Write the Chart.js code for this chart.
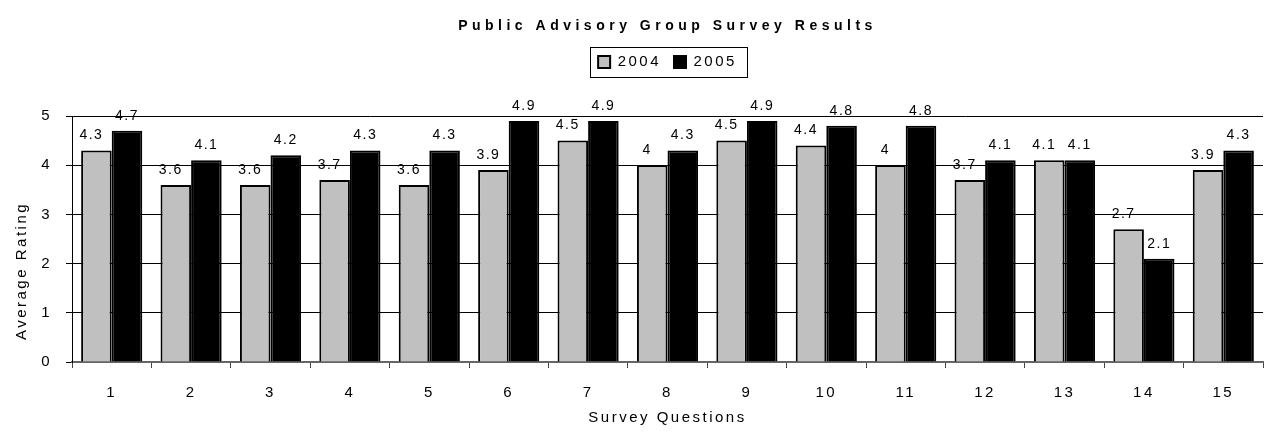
<!DOCTYPE html>
<html>
<head>
<meta charset="utf-8">
<script src="https://cdn.jsdelivr.net/npm/chart.js@4"></script>
<style>html,body{margin:0;padding:0;background:#fff}</style>
</head>
<body>
<canvas id="c" width="1267" height="432"></canvas>
<script>
// survey data
const questions = ['1','2','3','4','5','6','7','8','9','10','11','12','13','14','15'];
const ratings2004 = [4.3, 3.6, 3.6, 3.7, 3.6, 3.9, 4.5, 4, 4.5, 4.4, 4, 3.7, 4.1, 2.7, 3.9];
const ratings2005 = [4.7, 4.1, 4.2, 4.3, 4.3, 4.9, 4.9, 4.3, 4.9, 4.8, 4.8, 4.1, 4.1, 2.1, 4.3];
const yTicks = [0, 1, 2, 3, 4, 5];

const FONT = '"Liberation Sans", Arial, sans-serif';
const yTitle = 'Average Rating';

// spaced-out lettering like the original; the title gets a wider spread
const spacing = {
    id: 'spacing',
    afterInit(chart) {
        const tb = chart.titleBlock;
        const orig = tb.draw.bind(tb);
        tb.draw = function (area) {
            const prev = chart.ctx.letterSpacing;
            chart.ctx.letterSpacing = '4.5px';
            orig(area);
            chart.ctx.letterSpacing = prev;
        };
    },
    beforeUpdate(chart) { chart.ctx.letterSpacing = '2.5px'; },
    beforeDraw(chart) { chart.ctx.letterSpacing = '2.5px'; }
};

// box round the legend items
const legendBox = {
    id: 'legendBox',
    afterDraw(chart) {
        const boxes = chart.legend.legendHitBoxes;
        if (!boxes || !boxes.length) return;
        let l = Infinity, r = -Infinity, t = Infinity, b = -Infinity;
        boxes.forEach(h => {
            l = Math.min(l, h.left); r = Math.max(r, h.left + h.width);
            t = Math.min(t, h.top); b = Math.max(b, h.top + h.height);
        });
        const ctx = chart.ctx;
        ctx.save();
        ctx.strokeStyle = '#000';
        ctx.lineWidth = 1;
        ctx.strokeRect(Math.round(l - 8) + 0.5, Math.round(t - 8) + 0.5, Math.round(r - l + 18), Math.round(b - t + 15));
        ctx.restore();
    }
};

// rotated y title, sitting a little below the middle as in the original
const yTitlePlugin = {
    id: 'yTitle',
    afterDraw(chart) {
        const s = chart.scales.y;
        const ctx = chart.ctx;
        ctx.save();
        ctx.font = '15px ' + FONT;
        ctx.fillStyle = '#000';
        ctx.textAlign = 'center';
        ctx.textBaseline = 'middle';
        ctx.translate(22, (s.top + s.bottom) / 2 + 32);
        ctx.rotate(-Math.PI / 2);
        ctx.fillText(yTitle, 0, 0);
        ctx.restore();
    }
};

// value labels above the bars
const valueLabels = {
    id: 'valueLabels',
    afterDatasetsDraw(chart) {
        const ctx = chart.ctx;
        ctx.save();
        ctx.font = '14px ' + FONT;
        ctx.letterSpacing = '1.5px';
        ctx.fillStyle = '#000';
        ctx.textAlign = 'center';
        ctx.textBaseline = 'bottom';
        chart.data.datasets.forEach((ds, i) => {
            const shift = i === 0 ? -5 : 0;
            chart.getDatasetMeta(i).data.forEach((bar, j) => {
                ctx.fillText(String(ds.data[j]), bar.x + shift, bar.y - 8);
            });
        });
        ctx.restore();
    }
};

new Chart(document.getElementById('c'), {
    type: 'bar',
    data: {
        labels: questions,
        datasets: [{
            label: '2004',
            data: ratings2004,
            backgroundColor: '#c0c0c0',
            borderColor: '#000',
            borderWidth: 2,
            borderSkipped: 'bottom',
            barPercentage: 1,
            categoryPercentage: 0.77
        }, {
            label: '2005',
            data: ratings2005,
            backgroundColor: '#000',
            borderColor: '#000',
            borderWidth: 2,
            borderSkipped: 'bottom',
            barPercentage: 1,
            categoryPercentage: 0.77
        }]
    },
    options: {
        responsive: false,
        animation: false,
        layout: { padding: { left: 0, right: 4, top: 0, bottom: 0 } },
        plugins: {
            title: {
                display: true,
                fullSize: false,
                text: 'Public Advisory Group Survey Results',
                color: '#000',
                font: { family: FONT, size: 14, weight: 'bold' },
                padding: { top: 18, bottom: 6.7 }
            },
            // empty spacer between the legend and the plot
            subtitle: {
                display: true,
                fullSize: false,
                text: '',
                weight: 500,
                font: { size: 10 },
                padding: { top: 0, bottom: 24.5 }
            },
            legend: {
                display: true,
                fullSize: false,
                labels: {
                    color: '#000',
                    font: { family: FONT, size: 15 },
                    boxWidth: 12,
                    boxHeight: 12,
                    padding: 13
                }
            },
            tooltip: { enabled: false }
        },
        scales: {
            x: {
                grid: { display: true, drawOnChartArea: false, drawTicks: true, tickLength: 6, color: '#444', offset: true },
                border: { display: true, color: '#666', width: 2 },
                ticks: { color: '#000', font: { family: FONT, size: 15 }, padding: 16 },
                title: { display: true, text: 'Survey Questions', color: '#000', font: { family: FONT, size: 15 }, padding: { top: 0, bottom: 5 } },
                afterFit(scale) { scale.height = 70; }
            },
            y: {
                min: 0,
                max: 5,
                afterBuildTicks(scale) { scale.ticks = yTicks.map(v => ({ value: v })); },
                grid: { color: '#000', lineWidth: 1, tickLength: 6, drawTicks: true },
                border: { display: true, color: '#000', width: 1 },
                ticks: { color: '#000', font: { family: FONT, size: 15 }, padding: 14 },
                afterFit(scale) { scale.width = 72; }
            }
        }
    },
    plugins: [spacing, legendBox, yTitlePlugin, valueLabels]
});
</script>
</body>
</html>
